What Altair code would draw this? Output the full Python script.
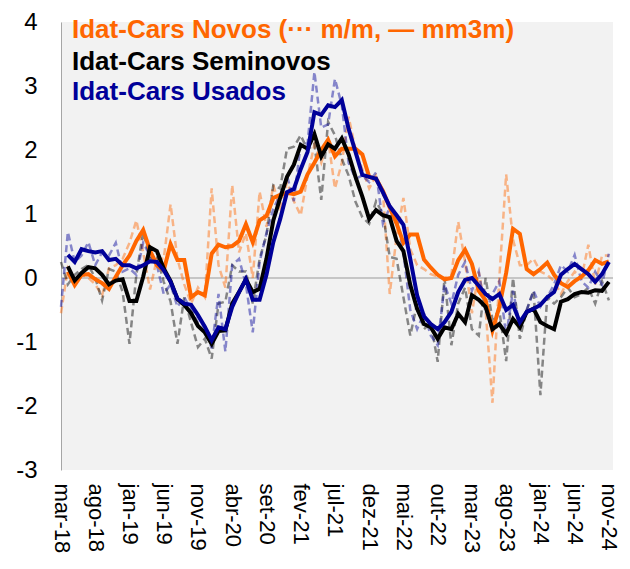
import altair as alt
import pandas as pd

# ---------------- data ----------------
MONTH_ABBR = ["jan", "fev", "mar", "abr", "mai", "jun", "jul", "ago", "set", "out", "nov", "dez"]
MONTHS = []
for k in range(81):
    m = (2 + k) % 12
    y = 18 + (2 + k) // 12
    MONTHS.append(f"{MONTH_ABBR[m]}-{y}")

TICK_LABELS = ["mar-18", "ago-18", "jan-19", "jun-19", "nov-19", "abr-20", "set-20", "fev-21",
               "jul-21", "dez-21", "mai-22", "out-22", "mar-23", "ago-23", "jan-24", "jun-24", "nov-24"]
TICK_POS = [0, 5, 10, 15, 20, 25, 30, 35, 40, 45, 50, 55, 60, 65, 70, 75, 80]
Y_TICKS = [-3, -2, -1, 0, 1, 2, 3, 4]

LEGEND_LINES = ["Idat-Cars Novos (\u00b7\u00b7\u00b7 m/m, \u2014 mm3m)",
                "Idat-Cars Seminovos",
                "Idat-Cars Usados"]

# m/m (dashed)
NOVOS_MM = [-0.55, 0.15, -0.05, 0.05, 0.00, -0.10, -0.27, 0.15, 0.20, 0.30,
            0.55, 0.90, 0.40, -0.18, 0.30, 0.30, 1.15, 0.30, -0.10, -0.40,
            -0.15, -0.30, 1.40, 0.20, -0.15, 1.45, 0.40, 0.70, 0.00, 1.35,
            0.80, 1.45, 1.10, 1.50, 1.20, 0.98, 1.60, 2.08, 1.80, 2.17,
            1.40, 1.80, 2.52, 2.00, 1.70, 1.40, 1.60, 1.35, -0.25, 0.65,
            1.25, 0.45, 0.20, 0.14, 0.06, 0.02, 0.00, 0.05, 0.88, 0.25,
            -0.55, 0.10, -0.50, -1.95, 0.00, 1.62, 0.60, 0.20, 0.20, 0.30,
            0.10, 0.05, -0.05, -0.25, -0.05, 0.10, 0.00, 0.52, -0.10, 0.35,
            0.35]
SEMI_MM = [0.25, -0.10, 0.05, 0.14, 0.20, 0.00, -0.35, 0.14, 0.10, -0.22,
           -1.03, 0.05, 0.72, 0.30, 0.35, -0.06, -0.37, -1.03, -0.30, -0.70,
           -1.08, -0.95, -1.26, -0.40, -0.37, 0.20, 0.10, 0.10, -0.40, 0.30,
           0.67, 1.45, 1.40, 2.02, 2.05, 2.23, 2.00, 2.10, 1.22, 2.44,
           2.23, 1.86, 1.60, 1.19, 0.95, 0.85, 1.20, 1.00, 0.33, 0.30,
           -0.30, -0.90, -0.40, -0.80, -0.70, -1.31, 0.00, -1.05, -0.40, -0.15,
           -0.80, -0.90, 0.00, -0.65, -0.50, -1.30, 0.00, -0.95, -0.50, -0.20,
           -1.83, -0.30, -0.40, -0.30, -0.15, -0.30, -0.25, -0.15, -0.40, -0.05,
           -0.35]
USADOS_MM = [-0.45, 0.72, 0.25, 0.35, 0.56, 0.20, 0.40, 0.35, 0.55, 0.10,
             0.15, 0.05, 0.55, 0.35, 0.20, -0.25, -0.10, -0.45, -0.30, -0.50,
             -0.70, -0.75, -1.10, -0.25, -1.15, 0.20, 0.30, -0.10, -0.85, 0.25,
             0.70, 1.08, 1.30, 1.60, 1.20, 2.10, 2.10, 3.22, 2.35, 2.40,
             3.11, 2.70, 1.80, 1.55, 1.60, 1.50, 1.65, 0.85, 1.10, 0.95,
             0.40, -0.50, -0.80, -0.55, -0.90, -1.05, -0.10, -0.40, 0.05, 0.25,
             -0.20, 0.10, -0.55, -0.25, -0.05, -0.90, -0.20, -0.75, -0.50, -0.20,
             -0.45, -0.30, -0.10, 0.20, 0.10, 0.36, -0.05, -0.15, 0.10, -0.10,
             0.38]

# mm3m (solid)
NOVOS_3M = [None, 0.10, -0.11, 0.05, 0.06, -0.02, -0.08, -0.17, 0.02, 0.20,
            0.35, 0.58, 0.75, 0.43, 0.20, 0.12, 0.53, 0.28, 0.28, -0.30,
            -0.22, -0.27, 0.38, 0.52, 0.48, 0.50, 0.58, 0.84, 0.56, 0.90,
            0.97, 1.25, 1.30, 1.33, 1.31, 1.35, 1.62, 1.80, 2.00, 2.16,
            1.90, 2.02, 2.02, 2.02, 1.93, 1.58, 1.55, 1.36, 1.10, 0.85,
            0.55, 0.68, 0.68, 0.29, 0.16, 0.05, -0.02, 0.00, 0.28, 0.44,
            0.22, -0.20, -0.35, -0.82, -0.45, 0.08, 0.77, 0.69, 0.14, 0.06,
            0.14, 0.24, 0.05, -0.08, -0.14, -0.05, 0.02, 0.12, 0.28, 0.22,
            0.26]
SEMI_3M = [None, 0.18, -0.04, 0.08, 0.17, 0.15, 0.05, -0.10, -0.04, -0.02,
           -0.36, -0.36, 0.02, 0.48, 0.42, 0.15, -0.05, -0.33, -0.42, -0.55,
           -0.75, -0.85, -1.03, -0.83, -0.82, -0.40, -0.22, -0.02, -0.22, -0.17,
           0.30, 0.90, 1.25, 1.58, 1.77, 2.08, 2.02, 2.25, 1.90, 2.09,
           2.02, 2.18, 1.93, 1.58, 1.27, 0.92, 1.06, 0.98, 0.95, 0.58,
           0.42, -0.11, -0.48, -0.72, -0.77, -0.95, -0.77, -0.80, -0.56, -0.69,
           -0.27, -0.34, -0.45, -0.80, -0.72, -0.87, -0.64, -0.77, -0.53, -0.48,
           -0.69, -0.75, -0.80, -0.37, -0.33, -0.25, -0.22, -0.23, -0.19, -0.20,
           -0.06]
USADOS_3M = [None, 0.36, 0.25, 0.45, 0.42, 0.40, 0.42, 0.28, 0.30, 0.20,
             0.20, 0.15, 0.20, 0.26, 0.25, 0.12, -0.06, -0.32, -0.40, -0.42,
             -0.58, -0.76, -0.97, -0.77, -0.80, -0.45, -0.22, -0.02, -0.34, -0.34,
             0.05, 0.56, 0.92, 1.34, 1.39, 1.70, 1.97, 2.59, 2.55, 2.70,
             2.67, 2.78, 2.33, 1.97, 1.61, 1.58, 1.55, 1.34, 1.12, 0.98,
             0.83, 0.30, -0.27, -0.60, -0.72, -0.80, -0.69, -0.53, -0.22, -0.03,
             0.00, -0.12, -0.25, -0.33, -0.25, -0.50, -0.42, -0.69, -0.53, -0.48,
             -0.42, -0.30, -0.22, 0.05, 0.14, 0.22, 0.14, 0.06, -0.06, 0.06,
             0.25]

ORANGE = "#ff6600"
BLACK = "#000000"
BLUE = "#000099"
FONT = "Liberation Sans"

df = pd.DataFrame({
    "idx": list(range(len(MONTHS))),
    "month": MONTHS,
    "novos_mm": NOVOS_MM,
    "semi_mm": SEMI_MM,
    "usados_mm": USADOS_MM,
    "novos_3m": NOVOS_3M,
    "semi_3m": SEMI_3M,
    "usados_3m": USADOS_3M,
})

label_array = "[" + ",".join(f"'{t}'" for t in TICK_LABELS) + "]"

x_enc = alt.X(
    "idx:Q",
    scale=alt.Scale(domain=[0, 80.6], nice=False, zero=False),
    axis=alt.Axis(
        values=TICK_POS,
        labelExpr=f"{label_array}[round(datum.value / 5)]",
        labelAngle=90,
        labelFontSize=22,
        labelPadding=13,
        domain=False,
        ticks=False,
        tickSize=0,
        grid=False,
        title=None,
    ),
)

def y_enc(field):
    return alt.Y(
        f"{field}:Q",
        scale=alt.Scale(domain=[-3, 4], nice=False),
        axis=alt.Axis(
            values=Y_TICKS,
            labelExpr="'' + datum.value",
            labelFontSize=24,
            labelPadding=24,
            ticks=False,
            tickSize=0,
            grid=False,
            domain=True,
            domainColor="#a6a6a6",
            domainWidth=1,
            title=None,
        ),
    )

base = alt.Chart(df)

zero_rule = alt.Chart(pd.DataFrame({"z": [0]})).mark_rule(color="#9a9a9a", strokeWidth=1).encode(
    y=alt.Y("z:Q", scale=alt.Scale(domain=[-3, 4], nice=False))
)

def dashed(field, color):
    return base.mark_line(color=color, strokeWidth=2.5, strokeDash=[7, 4], opacity=0.45).encode(
        x=x_enc, y=y_enc(field)
    )

def solid(field, color):
    return base.mark_line(color=color, strokeWidth=4).encode(x=x_enc, y=y_enc(field))

def legend_text(text, color, ypix):
    return alt.Chart(pd.DataFrame({"t": [text]})).mark_text(
        text=text, color=color, font=FONT, fontSize=26, fontWeight="bold",
        align="left", baseline="alphabetic"
    ).encode(x=alt.value(11), y=alt.value(ypix))

chart = alt.layer(
    zero_rule,
    dashed("novos_mm", ORANGE),
    dashed("semi_mm", BLACK),
    dashed("usados_mm", BLUE),
    solid("novos_3m", ORANGE),
    solid("semi_3m", BLACK),
    solid("usados_3m", BLUE),
    legend_text(LEGEND_LINES[0], ORANGE, 16),
    legend_text(LEGEND_LINES[1], BLACK, 48),
    legend_text(LEGEND_LINES[2], BLUE, 78),
).properties(
    width=552,
    height=448,
    autosize=alt.AutoSizeParams(type="none"),
    padding={"left": 53, "top": 14, "right": 9, "bottom": 86},
    background="white",
).configure_view(
    fill="#f2f2f2",
    strokeWidth=0,
).configure_axis(
    labelFont=FONT,
    labelColor="#000000",
)

chart.save("out.html", embed_options={"renderer": "svg", "actions": False})
